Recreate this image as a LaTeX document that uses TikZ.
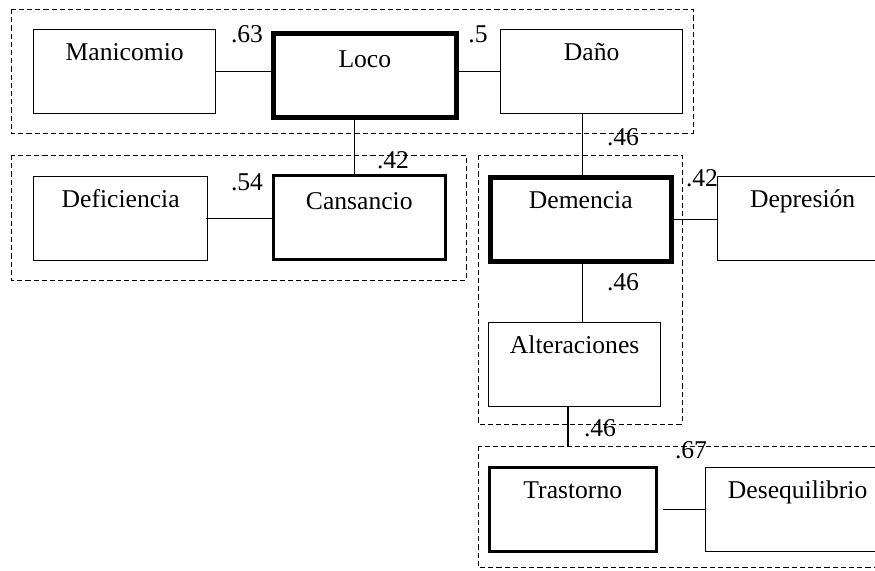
\documentclass[tikz,border=0pt]{standalone}
\usepackage{fontspec}
\setmainfont{Liberation Serif}
\tikzset{
  box/.style={draw,line width=0.65pt,inner sep=0pt,anchor=north west,
    text height=15.5pt,text depth=26.5pt},
  boxmid/.style={box,line width=1.3pt},
  boxbig/.style={box,line width=2.3pt},
  lower/.style={text height=17pt,text depth=25pt},
  group/.style={line width=0.5pt,dash pattern=on 2.6pt off 1.5pt},
  link/.style={line width=0.55pt},
  wt/.style={inner sep=0pt,text height=8.6pt,text depth=0pt}
}
\begin{document}
\begin{tikzpicture}[x=0.5pt,y=-0.5pt,font=\fontsize{12.8}{15}\selectfont]
\useasboundingbox (0,0) rectangle (875,570);
\draw[group] (11,9) rectangle (693,133);
\draw[group] (11,155) rectangle (466,280);
\draw[group] (478,155) rectangle (682,424);
\draw[group] (478,446) rectangle (900,567);

\node[box,minimum width=91pt] (manicomio) at (33,29) {Manicomio};
\node[boxbig,lower,minimum width=91.5pt] (loco) at (271,31) {Loco};
\node[box,minimum width=91pt] (dano) at (500,29) {Daño};
\node[box,minimum width=87pt] (deficiencia) at (33,176) {Deficiencia};
\node[boxmid,lower,minimum width=86pt] (cansancio) at (272,174) {Cansancio};
\node[boxbig,minimum width=90.5pt] (demencia) at (488,175) {Demencia};
\node[box,minimum width=85pt] (depresion) at (717,176) {Depresión};
\node[box,minimum width=86pt] (alteraciones) at (488,322) {Alteraciones};
\node[boxmid,minimum width=83.5pt] (trastorno) at (488,466) {Trastorno};
\node[box,minimum width=92pt] (desequilibrio) at (705,467) {Desequilibrio};

\coordinate (grupo) at (568,446);

\draw[link] (manicomio.east) -- (loco.west |- manicomio.east);
\draw[link] (loco.east |- manicomio.east) -- (dano.west);
\draw[link] ([xshift=-5pt]loco.south) -- ([xshift=-5pt]loco.south |- cansancio.north);
\draw[link] ([xshift=-1pt]deficiencia.east) -- (cansancio.west |- deficiencia.east);
\draw[link] ([xshift=0.7pt]demencia.north) -- ([xshift=0.7pt]demencia.north |- dano.south);
\draw[link] (demencia.east) -- (demencia.east -| depresion.west);
\draw[link] ([xshift=0.7pt]demencia.south) -- ([xshift=0.7pt]demencia.south |- alteraciones.north);
\draw[link] (alteraciones.south -| grupo) -- (grupo);
\draw[link] ([xshift=2.5pt]trastorno.east) -- (trastorno.east -| desequilibrio.west);

\node[wt] (w63) at (247,34) {.63};
\node[wt] (w5) at (478,34) {.5};
\node[wt] (w42a) at (393,160) {.42};
\node[wt] (w54) at (247,182) {.54};
\node[wt] (w46a) at (623,137) {.46};
\node[wt] (w42b) at (702,178) {.42};
\node[wt] (w46b) at (623,282) {.46};
\node[wt] (w46c) at (600,428) {.46};
\node[wt] (w67) at (691,450) {.67};
\end{tikzpicture}
\end{document}
